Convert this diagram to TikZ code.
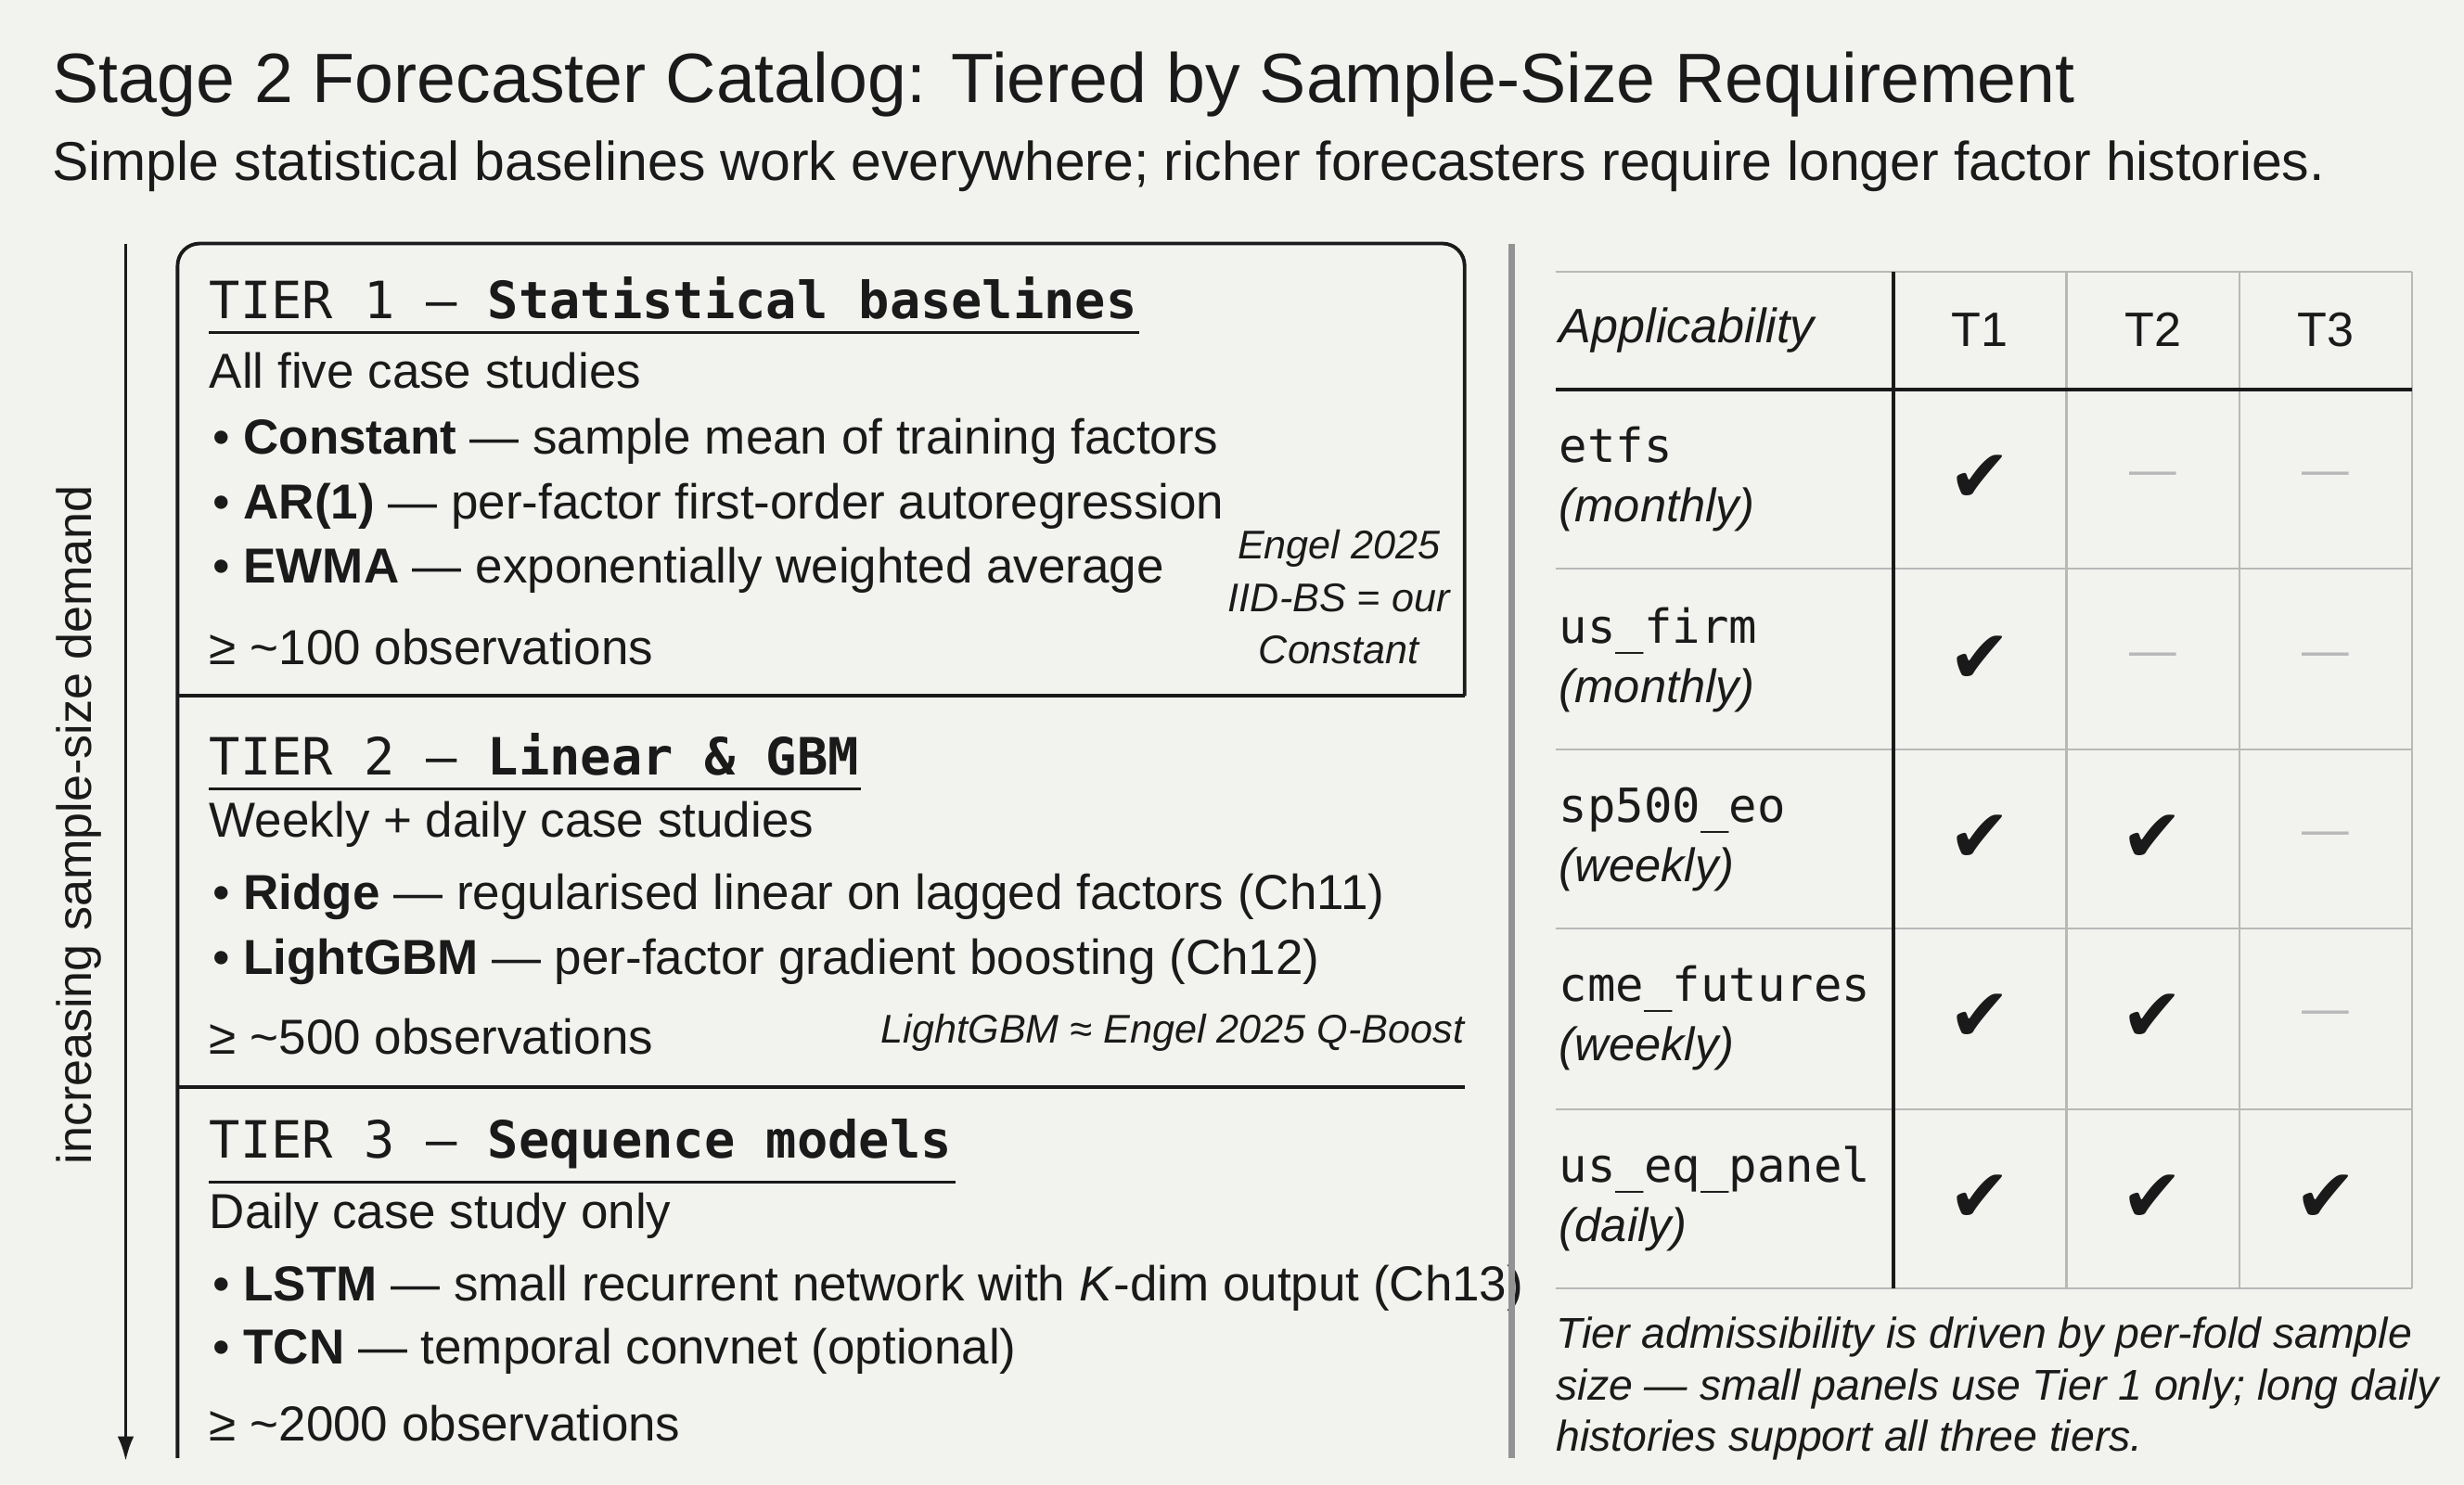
\documentclass[tikz,border=0pt]{standalone}
\usepackage{fontspec}
\usetikzlibrary{arrows.meta}
\setmainfont{Liberation Sans}
\setsansfont{Liberation Sans}
\setmonofont{DejaVu Sans Mono}
\newfontfamily\symf{DejaVu Sans}
\definecolor{bg}{HTML}{F2F2EF}
\definecolor{ink}{HTML}{1A1A1A}
\definecolor{lg}{HTML}{B8B8B8}
\begin{document}
\begin{tikzpicture}[x=0.02cm,y=-0.02cm,
  txt/.style={anchor=west,inner sep=0,text=ink,font=\fontsize{17.8}{20}\selectfont},
  hdr/.style={anchor=west,inner sep=0,text=ink,font=\ttfamily\fontsize{18.6}{20}\selectfont},
  note/.style={inner sep=0,text=ink,font=\itshape\fontsize{14.5}{19}\selectfont,align=center},
  rowname/.style={anchor=west,inner sep=0,text=ink,align=left,font=\fontsize{17}{21.5}\selectfont},
  chk/.style={inner sep=0,text=ink,font=\symf\fontsize{27}{27}\selectfont},
  nd/.style={inner sep=0,text=lg,font=\fontsize{17}{20}\selectfont},
  frame/.style={draw=ink,line width=1.3pt},
  grid/.style={draw=lg,line width=0.8pt}]
\fill[bg] (0,0) rectangle (1568,945);
\useasboundingbox (0,0) rectangle (1568,945);
% title
\node[anchor=west,inner sep=0,text=ink,font=\fontsize{25.3}{28}\selectfont] (title) at (33,54) {Stage 2 Forecaster Catalog: Tiered by Sample-Size Requirement};
\node[anchor=west,inner sep=0,text=ink,font=\fontsize{19.8}{22}\selectfont] (sub) at (33,106) {Simple statistical baselines work everywhere; richer forecasters require longer factor histories.};
% left arrow
\coordinate (a1) at (80,155); \coordinate (a2) at (80,930);
\draw[ink,line width=1.3pt,-{Latex[length=9pt,width=6pt]}] (a1) -- (a2);
\node[rotate=90,inner sep=0,text=ink,font=\fontsize{17.5}{20}\selectfont] (lab) at (50,525) {increasing sample-size demand};
% tier frame
\draw[frame,rounded corners=8] (113,928) -- (113,155) -- (932,155) -- (932,443);
\draw[frame] (113,443) -- (932,443);
\draw[frame] (113,692) -- (932,692);
% tier 1
\node[hdr] (t1) at (133,190) {TIER 1 — \textbf{Statistical baselines}};
\draw[ink,line width=1pt] (t1.south west)++(0,8) -- ++(592,0);
\node[txt] (t1a) at (133,236) {All five case studies};
\node[txt] (t1b) at (135,281) {• \textbf{Constant} — sample mean of training factors};
\node[txt] (t1c) at (135,322) {• \textbf{AR(1)} — per-factor first-order autoregression};
\node[txt] (t1d) at (135,363) {• \textbf{EWMA} — exponentially weighted average};
\node[txt] (t1e) at (133,412) {≥ \textasciitilde100 observations};
\node[note] (n1) at (852,380) {Engel 2025\\IID-BS = our\\Constant};
% tier 2
\node[hdr] (t2) at (133,480) {TIER 2 — \textbf{Linear \& GBM}};
\draw[ink,line width=1pt] (t2.south west)++(0,8) -- ++(415,0);
\node[txt] (t2a) at (133,525) {Weekly + daily case studies};
\node[txt] (t2b) at (135,571) {• \textbf{Ridge} — regularised linear on lagged factors (Ch11)};
\node[txt] (t2c) at (135,612) {• \textbf{LightGBM} — per-factor gradient boosting (Ch12)};
\node[txt] (t2e) at (133,660) {≥ \textasciitilde500 observations};
\node[note,anchor=east] (n2) at (932,657) {LightGBM ≈ Engel 2025 Q-Boost};
% tier 3
\node[hdr] (t3) at (133,728) {TIER 3 — \textbf{Sequence models}};
\draw[ink,line width=1pt] (t3.south west)++(0,8) -- ++(475,0);
\node[txt] (t3a) at (133,774) {Daily case study only};
\node[txt] (t3b) at (135,820) {• \textbf{LSTM} — small recurrent network with \textit{K}-dim output (Ch13)};
\node[txt] (t3c) at (135,860) {• \textbf{TCN} — temporal convnet (optional)};
\node[txt] (t3e) at (133,906) {≥ \textasciitilde2000 observations};
% separator
\draw[draw=lg!80!black,line width=2.6pt] (962,155) -- (962,928);
% table grid
\foreach \y in {173,362,477,591,706,820} \draw[grid] (990,\y) -- (1535,\y);
\foreach \x in {1315,1425,1535} \draw[grid] (\x,173) -- (\x,820);
\draw[frame] (990,248) -- (1535,248);
\draw[frame] (1205,173) -- (1205,820);
\node[anchor=west,inner sep=0,text=ink,font=\itshape\fontsize{17.5}{20}\selectfont] (ap) at (992,210) {Applicability};
\node[inner sep=0,text=ink,font=\fontsize{17.5}{20}\selectfont] (h1) at (1260,210) {T1};
\node[inner sep=0,text=ink,font=\fontsize{17.5}{20}\selectfont] (h2) at (1370,210) {T2};
\node[inner sep=0,text=ink,font=\fontsize{17.5}{20}\selectfont] (h3) at (1480,210) {T3};
% rows
\foreach \n/\p/\y/\a/\b/\c in {etfs/monthly/305/1/0/0, us\_firm/monthly/420/1/0/0, sp500\_eo/weekly/534/1/1/0, cme\_futures/weekly/648/1/1/0, us\_eq\_panel/daily/763/1/1/1}{
  \node[rowname] at (992,\y) {\texttt{\n}\\\textit{(\p)}};
  \foreach \v/\cx in {\a/1260,\b/1370,\c/1480}{
    \ifnum\v=1 \node[chk] at (\cx,\y) {✔};\else \node[nd] at (\cx,\y) {—};\fi
  }
}
\node[anchor=north west,inner sep=0,text=ink,align=left,font=\itshape\fontsize{15.6}{18.6}\selectfont] (foot) at (990,838) {Tier admissibility is driven by per-fold sample\\size — small panels use Tier 1 only; long daily\\histories support all three tiers.};
\end{tikzpicture}
\end{document}
